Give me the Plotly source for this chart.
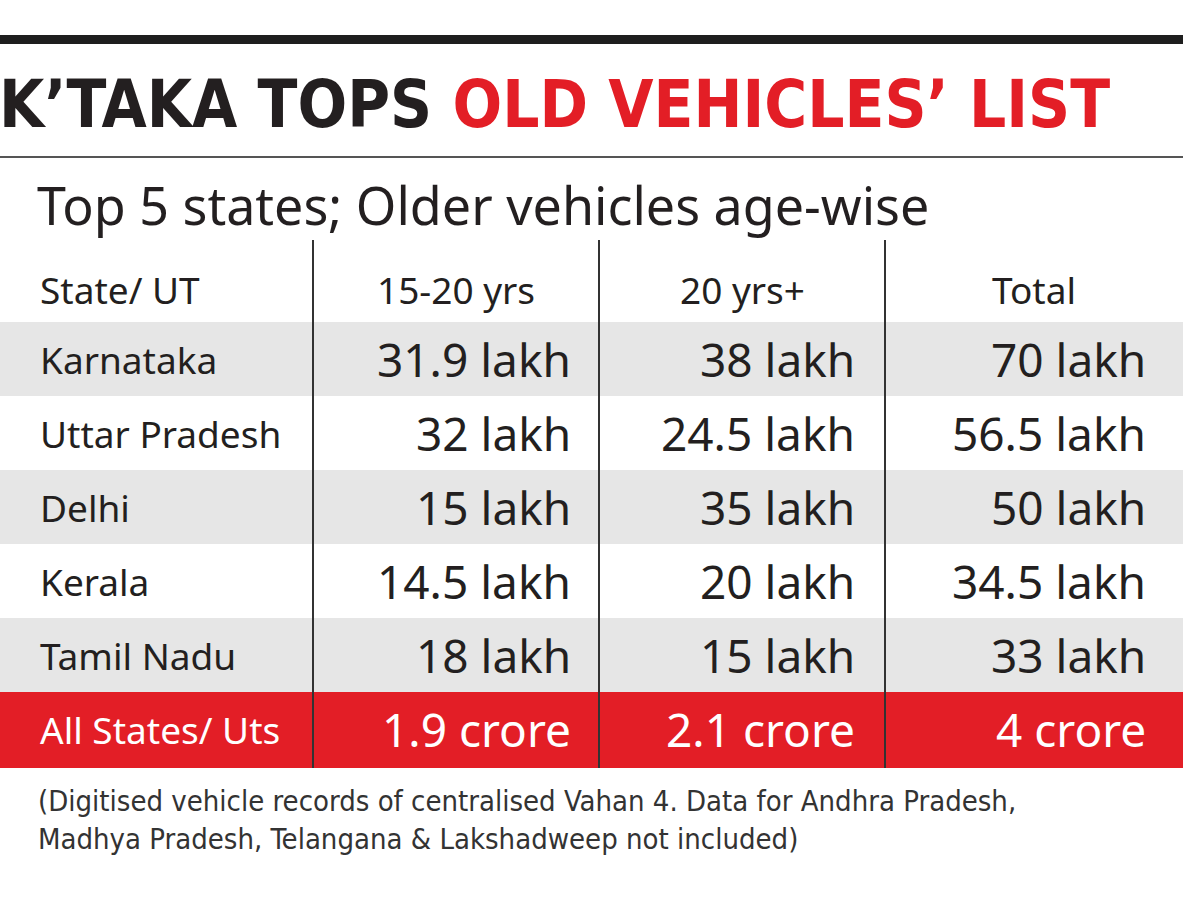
import plotly.graph_objects as go

# ---- data ----
headers = ["State/ UT", "15-20 yrs", "20 yrs+", "Total"]
states = ["Karnataka", "Uttar Pradesh", "Delhi", "Kerala", "Tamil Nadu"]
yrs_15_20_lakh = [31.9, 32, 15, 14.5, 18]
yrs_20_plus_lakh = [38, 24.5, 35, 20, 15]
total_lakh = [70, 56.5, 50, 34.5, 33]
all_label = "All States/ Uts"
all_crore = [1.9, 2.1, 4]

title_black = "K’TAKA TOPS "
title_red = "OLD VEHICLES’ LIST"
subtitle = "Top 5 states; Older vehicles age-wise"
footnote = ("(Digitised vehicle records of centralised Vahan 4. Data for Andhra Pradesh,<br>"
            "Madhya Pradesh, Telangana & Lakshadweep not included)")

# ---- layout constants (screen pixels) ----
W, H = 1200, 900
RIGHT = 1183
RED = "#e31e26"
GRAY = "#e6e6e6"
DARK = "#231f20"
col_lines = [313, 599, 885]
col_right = [573, 857, 1148]
row_top0 = 322
row_h = 74
TXT = "Noto Sans"
COND = "DejaVu Sans Condensed"

fig = go.Figure()
shapes = []
ann = []

# top thick rule and thin rule
shapes.append(dict(type="rect", x0=0, x1=RIGHT, y0=35, y1=44, fillcolor="#1e1e1e", line_width=0, layer="below"))
shapes.append(dict(type="line", x0=0, x1=RIGHT, y0=157, y1=157, line=dict(color="#555555", width=2)))

# title
ann.append(dict(x=0, y=104, xanchor="left", yanchor="middle", xshift=-3,
                text=f"{title_black}<span style='color:{RED}'>{title_red}</span>",
                font=dict(family=COND, size=65, color=DARK, weight="bold")))
# subtitle
ann.append(dict(x=35, y=204, xanchor="left", yanchor="middle", text=subtitle,
                font=dict(family=TXT, size=52, color=DARK)))

# headers
hdr_y = 289
ann.append(dict(x=38, y=hdr_y, xanchor="left", yanchor="middle", text=headers[0],
                font=dict(family=TXT, size=37, color=DARK)))
col_centers = [(col_lines[0] + col_lines[1]) / 2, (col_lines[1] + col_lines[2]) / 2, (col_lines[2] + RIGHT) / 2]
for i in range(3):
    ann.append(dict(x=col_centers[i], y=hdr_y, xanchor="center", yanchor="middle", text=headers[i + 1],
                    font=dict(family=TXT, size=37, color=DARK)))

# body rows
cols = [yrs_15_20_lakh, yrs_20_plus_lakh, total_lakh]
for r, st in enumerate(states):
    y0 = row_top0 + r * row_h
    yc = y0 + row_h / 2
    if r % 2 == 0:
        shapes.append(dict(type="rect", x0=0, x1=RIGHT, y0=y0, y1=y0 + row_h, fillcolor=GRAY,
                           line_width=0, layer="below"))
    ann.append(dict(x=38, y=yc, xanchor="left", yanchor="middle", text=st,
                    font=dict(family=TXT, size=37, color=DARK)))
    for c in range(3):
        ann.append(dict(x=col_right[c], y=yc, xanchor="right", yanchor="middle",
                        text=f"{cols[c][r]:g} lakh", font=dict(family=TXT, size=46, color=DARK)))

# total row
y0 = row_top0 + len(states) * row_h
yc = y0 + row_h / 2
shapes.append(dict(type="rect", x0=0, x1=RIGHT, y0=y0, y1=y0 + row_h + 2, fillcolor=RED, line_width=0, layer="below"))
ann.append(dict(x=38, y=yc, xanchor="left", yanchor="middle", text=all_label,
                font=dict(family=TXT, size=37, color="white")))
for c in range(3):
    ann.append(dict(x=col_right[c], y=yc, xanchor="right", yanchor="middle",
                    text=f"{all_crore[c]:g} crore", font=dict(family=TXT, size=46, color="white")))
table_bottom = y0 + row_h + 2

# vertical separators
for x in col_lines:
    shapes.append(dict(type="line", x0=x, x1=x, y0=240, y1=table_bottom, line=dict(color="#333333", width=2)))

# footnote
ann.append(dict(x=36, y=820, xanchor="left", yanchor="middle", text=footnote, align="left",
                font=dict(family=COND, size=29, color="#333333")))

for a in ann:
    a.update(xref="x", yref="y", showarrow=False)

fig.update_layout(
    width=W, height=H, margin=dict(l=0, r=0, t=0, b=0),
    paper_bgcolor="white", plot_bgcolor="white",
    xaxis=dict(range=[0, W], visible=False, fixedrange=True),
    yaxis=dict(range=[H, 0], visible=False, fixedrange=True),
    shapes=shapes, annotations=ann, showlegend=False,
)
fig.write_html("out.html", config={"displayModeBar": False},
               post_script="document.body.style.margin='0';document.body.style.overflow='hidden';")
